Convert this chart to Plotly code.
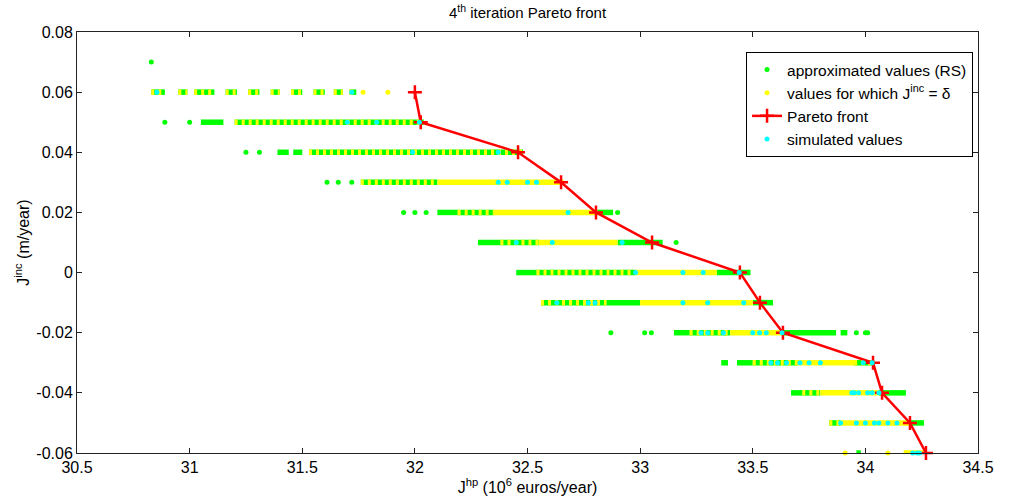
import plotly.graph_objects as go

# ---------------- data ----------------
X_TICKS = [30.5, 31, 31.5, 32, 32.5, 33, 33.5, 34, 34.5]
X_TICK_TEXT = ["30.5", "31", "31.5", "32", "32.5", "33", "33.5", "34", "34.5"]
Y_TICKS = [-0.06, -0.04, -0.02, 0, 0.02, 0.04, 0.06, 0.08]
Y_TICK_TEXT = ["-0.06", "-0.04", "-0.02", "0", "0.02", "0.04", "0.06", "0.08"]

# Pareto front (J_hp, J_inc)
PARETO_X = [32.00, 32.026, 32.458, 32.649, 32.804, 33.053, 33.443, 33.532, 33.634, 34.034, 34.074, 34.198, 34.269]
PARETO_Y = [0.06, 0.05, 0.04, 0.03, 0.02, 0.01, 0.0, -0.01, -0.02, -0.03, -0.04, -0.05, -0.06]

# dense runs of approximated values: (J_inc level, J_hp start, J_hp end)
GREEN_RUNS = [
    (0.05, 31.05, 31.15),
    (0.04, 31.39, 31.44), (0.04, 31.46, 31.50),
    (0.02, 32.10, 32.19), (0.02, 32.81, 32.88),
    (0.01, 32.28, 32.38), (0.01, 32.90, 33.10),
    (0.0, 32.45, 32.54), (0.0, 33.34, 33.49),
    (-0.01, 32.85, 33.00), (-0.01, 33.50, 33.59),
    (-0.02, 33.15, 33.22), (-0.02, 33.63, 33.87), (-0.02, 33.89, 33.92),
    (-0.03, 33.36, 33.39), (-0.03, 33.43, 33.50),
    (-0.04, 33.67, 33.72), (-0.04, 34.06, 34.18),
    (-0.05, 34.20, 34.26),
    (-0.06, 33.96, 33.98),
]
# runs where approximated values and J_inc = delta values alternate
MIXED_RUNS = [
    (0.06, 30.83, 30.89), (0.06, 30.95, 30.99), (0.06, 31.02, 31.11), (0.06, 31.16, 31.21),
    (0.06, 31.26, 31.31), (0.06, 31.36, 31.40), (0.06, 31.45, 31.50), (0.06, 31.55, 31.60),
    (0.06, 31.64, 31.68), (0.06, 31.71, 31.74),
    (0.05, 31.20, 32.04),
    (0.04, 31.53, 32.48),
    (0.03, 31.76, 32.10),
    (0.02, 32.19, 32.35),
    (0.01, 32.38, 32.55),
    (0.0, 32.54, 32.98),
    (-0.01, 32.56, 32.85),
    (-0.02, 33.22, 33.40),
    (-0.03, 33.50, 33.70), (-0.03, 33.95, 34.04),
    (-0.04, 33.72, 33.80),
    (-0.05, 33.84, 33.89),
]
# runs of values for which J_inc = delta
YELLOW_RUNS = [
    (0.03, 32.10, 32.66),
    (0.02, 32.35, 32.81),
    (0.01, 32.55, 32.90),
    (0.0, 32.98, 33.34),
    (-0.01, 33.00, 33.50),
    (-0.02, 33.40, 33.63),
    (-0.03, 33.70, 33.95),
    (-0.04, 33.80, 34.06),
    (-0.05, 33.89, 34.20),
    (-0.06, 34.17, 34.27),
]

# isolated approximated values
GREEN_PTS_X = [30.83, 30.89, 31.00, 31.25, 31.31, 31.61, 31.66, 31.72, 31.95, 32.00, 32.05, 32.90,
               33.16, 32.87, 33.02, 33.05, 33.96, 34.00, 34.01]
GREEN_PTS_Y = [0.07, 0.05, 0.05, 0.04, 0.04, 0.03, 0.03, 0.03, 0.02, 0.02, 0.02, 0.02,
               0.01, -0.02, -0.02, -0.02, -0.02, -0.02, -0.02]
# isolated J_inc = delta values
YELLOW_PTS_X = [31.77, 31.88, 33.91, 34.10]
YELLOW_PTS_Y = [0.06, 0.06, -0.06, -0.06]
# simulated values
CYAN_X = [30.855, 31.72,
          31.70, 31.83, 32.02,
          31.99, 32.37,
          32.37, 32.41, 32.50, 32.54,
          32.68,
          32.45, 32.61, 32.92,
          32.98, 33.19, 33.28, 33.44,
          32.63, 32.77, 32.80, 33.19, 33.30, 33.46,
          33.27, 33.30, 33.37, 33.50, 33.53, 33.56, 33.63,
          33.58, 33.61, 33.65, 33.71, 33.75, 33.80, 33.99, 34.03,
          33.94, 33.95, 33.97, 34.01, 34.03, 34.06,
          33.89, 33.96, 34.00, 34.04, 34.06, 34.10, 34.14,
          34.21, 34.23, 34.24]
CYAN_Y = [0.06, 0.06,
          0.05, 0.05, 0.05,
          0.04, 0.04,
          0.03, 0.03, 0.03, 0.03,
          0.02,
          0.01, 0.01, 0.01,
          0.0, 0.0, 0.0, 0.0,
          -0.01, -0.01, -0.01, -0.01, -0.01, -0.01,
          -0.02, -0.02, -0.02, -0.02, -0.02, -0.02, -0.02,
          -0.03, -0.03, -0.03, -0.03, -0.03, -0.03, -0.03, -0.03,
          -0.04, -0.04, -0.04, -0.04, -0.04, -0.04,
          -0.05, -0.05, -0.05, -0.05, -0.05, -0.05, -0.05,
          -0.06, -0.06, -0.06]

GREEN = "#00FF00"
YELLOW = "#FFFF00"
CYAN = "#00FFFF"
RED = "#FF0000"
FONT = "Liberation Sans, Arial, sans-serif"


def runs_xy(runs):
    xs, ys = [], []
    for y, x0, x1 in runs:
        xs += [x0, x1, None]
        ys += [y, y, None]
    return xs, ys


fig = go.Figure()

gx, gy = runs_xy(GREEN_RUNS)
mx, my = runs_xy(MIXED_RUNS)
yx, yy = runs_xy(YELLOW_RUNS)

fig.add_trace(go.Scatter(x=gx, y=gy, mode="lines", line=dict(color=GREEN, width=5.5),
                         showlegend=False, hoverinfo="skip", cliponaxis=False))
fig.add_trace(go.Scatter(x=mx, y=my, mode="lines", line=dict(color=GREEN, width=5.5),
                         showlegend=False, hoverinfo="skip", cliponaxis=False))
fig.add_trace(go.Scatter(x=mx, y=my, mode="lines", line=dict(color=YELLOW, width=5.5, dash="3px,4px"),
                         showlegend=False, hoverinfo="skip", cliponaxis=False))
fig.add_trace(go.Scatter(x=yx, y=yy, mode="lines", line=dict(color=YELLOW, width=5.5),
                         showlegend=False, hoverinfo="skip", cliponaxis=False))

fig.add_trace(go.Scatter(x=GREEN_PTS_X, y=GREEN_PTS_Y, mode="markers",
                         marker=dict(color=GREEN, size=5, line=dict(width=0)),
                         name="approximated values (RS)", cliponaxis=False))
fig.add_trace(go.Scatter(x=YELLOW_PTS_X, y=YELLOW_PTS_Y, mode="markers",
                         marker=dict(color=YELLOW, size=5, line=dict(width=0)),
                         name="values for which J<sup>inc</sup> = δ", cliponaxis=False))
fig.add_trace(go.Scatter(x=PARETO_X, y=PARETO_Y, mode="lines+markers",
                         line=dict(color=RED, width=2.5),
                         marker=dict(symbol="cross-thin", size=10, color=RED,
                                     line=dict(color=RED, width=2.5)),
                         name="Pareto front", cliponaxis=False))
fig.add_trace(go.Scatter(x=CYAN_X, y=CYAN_Y, mode="markers",
                         marker=dict(color=CYAN, size=5, line=dict(width=0)),
                         name="simulated values", cliponaxis=False))

axis_common = dict(showgrid=False, zeroline=False, showline=True, linecolor="#222222",
                   linewidth=1, mirror="ticks", ticks="inside", ticklen=5,
                   tickcolor="#222222", tickfont=dict(family=FONT, size=16, color="black"))

fig.update_layout(
    width=1016, height=503,
    margin=dict(l=77, r=38, t=32, b=50),
    paper_bgcolor="white", plot_bgcolor="white",
    font=dict(family=FONT, size=16, color="black"),
    title=dict(text="4<sup>th</sup> iteration Pareto front", x=0.5, xanchor="center",
               xref="paper", y=1 - 13 / 503, yref="container", yanchor="middle",
               font=dict(family=FONT, size=15, color="black")),
    xaxis=dict(range=[30.5, 34.5], tickvals=X_TICKS, ticktext=X_TICK_TEXT,
               title=dict(text="J<sup>hp</sup> (10<sup>6</sup> euros/year)", standoff=5,
                          font=dict(family=FONT, size=16)),
               **axis_common),
    yaxis=dict(range=[-0.06, 0.08], tickvals=Y_TICKS, ticktext=Y_TICK_TEXT,
               title=dict(text="J<sup>inc</sup> (m/year)", standoff=2,
                          font=dict(family=FONT, size=16)),
               **axis_common),
    legend=dict(x=0.9945, xanchor="right", y=0.9525, yanchor="top",
                bgcolor="white", bordercolor="black", borderwidth=1,
                font=dict(family=FONT, size=15.5, color="black"),
                tracegroupgap=0, traceorder="normal"),
    showlegend=True,
)

fig.write_html("out.html")
